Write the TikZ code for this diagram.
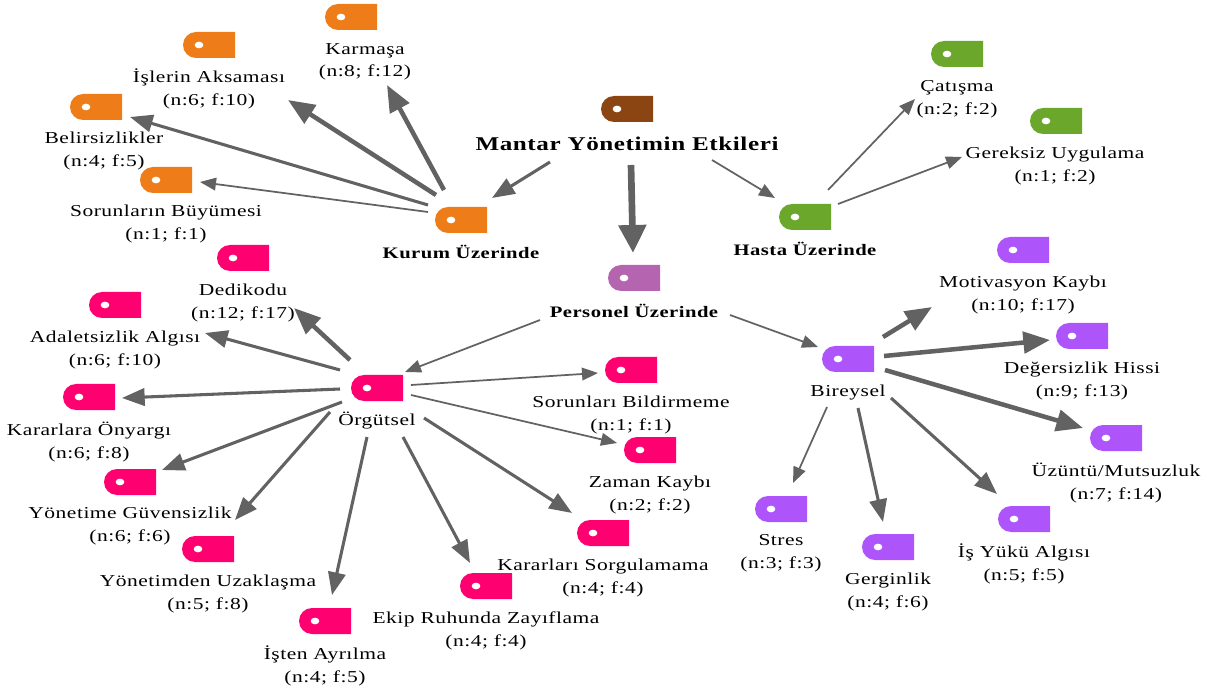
\documentclass[tikz,border=0pt]{standalone}
\usepackage{fontspec}
\setmainfont[LetterSpace=3,FakeStretch=1.29]{Liberation Serif}
\usetikzlibrary{arrows.meta,calc,shapes.misc,shapes.geometric}
\definecolor{corg}{HTML}{EE7C18}
\definecolor{cbrn}{HTML}{8B4513}
\definecolor{cgrn}{HTML}{6BA72B}
\definecolor{cpnk}{HTML}{FF0070}
\definecolor{cpur}{HTML}{AD55FB}
\definecolor{cper}{HTML}{B565B0}
\definecolor{cedge}{HTML}{626262}
\tikzset{
  x=0.75pt,y=-0.75pt,
  tagbox/.style={draw=none,fill=#1,rounded rectangle,rounded rectangle right arc=none,minimum width=39pt,minimum height=19.5pt,inner sep=0pt,outer sep=0pt},
  taghole/.style={draw=none,fill=white,ellipse,minimum width=6.5pt,minimum height=5pt,inner sep=0pt},
  lab/.style={align=center,inner sep=0pt,font=\fontsize{12.5}{16.9}\selectfont},
  blab/.style={align=center,inner sep=0pt,font=\fontsize{12}{16.9}\selectfont\bfseries},
  ethin/.style={draw=cedge,line width=1.3pt,-{Triangle[length=12pt,width=9.5pt]}},
  emid/.style={draw=cedge,line width=2.3pt,-{Triangle[length=17pt,width=13pt]}},
  ewide/.style={draw=cedge,line width=3.4pt,-{Triangle[length=20pt,width=16pt]}},
  ebig/.style={draw=cedge,line width=5pt,-{Triangle[length=21pt,width=20pt]}},
}
\newcommand{\tagat}[4]{\node[tagbox=#4] (#1) at (#2,#3) {};\node[taghole] (#1h) at ($(#1)+(-10,0)$) {};}
\begin{document}
\begin{tikzpicture}
\useasboundingbox (0,0) rectangle (1206,691);
% tags
\tagat{root}{627}{109}{cbrn}
\tagat{kurum}{461}{220}{corg}
\tagat{hasta}{805}{217}{cgrn}
\tagat{pers}{634}{278}{cper}
\tagat{karm}{351}{17}{corg}
\tagat{isle}{209}{45}{corg}
\tagat{beli}{96}{107}{corg}
\tagat{sorb}{166}{180}{corg}
\tagat{cati}{957}{54}{cgrn}
\tagat{gere}{1056}{121}{cgrn}
\tagat{orgu}{377}{388}{cpnk}
\tagat{bire}{848}{359}{cpur}
\tagat{moti}{1023}{250}{cpur}
\tagat{dege}{1082}{336}{cpur}
\tagat{uzun}{1116}{438}{cpur}
\tagat{isyu}{1024}{519}{cpur}
\tagat{gerg}{888}{547}{cpur}
\tagat{stre}{781}{509}{cpur}
\tagat{dedi}{243}{258}{cpnk}
\tagat{adal}{115}{305}{cpnk}
\tagat{kara}{89}{397}{cpnk}
\tagat{ygue}{130}{482}{cpnk}
\tagat{yuza}{208}{549}{cpnk}
\tagat{iste}{325}{621}{cpnk}
\tagat{ekip}{486}{586}{cpnk}
\tagat{ksor}{603}{533}{cpnk}
\tagat{zama}{650}{450}{cpnk}
\tagat{sbil}{631}{370}{cpnk}
% labels
\node[blab,font=\fontsize{14.6}{18}\selectfont\bfseries] (lroot) at (627,144) {Mantar Yönetimin Etkileri};
\node[blab] (lkurum) at (461,252) {Kurum Üzerinde};
\node[blab] (lhasta) at (805,249) {Hasta Üzerinde};
\node[blab] (lpers) at (634,311) {Personel Üzerinde};
\node[lab] (lorgu) at (377,421) {Örgütsel};
\node[lab] (lbire) at (848,393) {Bireysel};
\node[lab] (lkarm) at (365,62) {Karmaşa\\(n:8; f:12)};
\node[lab] (lisle) at (209,89) {İşlerin Aksaması\\(n:6; f:10)};
\node[lab] (lbeli) at (104,151) {Belirsizlikler\\(n:4; f:5)};
\node[lab] (lsorb) at (166,224) {Sorunların Büyümesi\\(n:1; f:1)};
\node[lab] (lcati) at (957,99) {Çatışma\\(n:2; f:2)};
\node[lab] (lgere) at (1055,166) {Gereksiz Uygulama\\(n:1; f:2)};
\node[lab] (lmoti) at (1023,295) {Motivasyon Kaybı\\(n:10; f:17)};
\node[lab] (ldege) at (1082,381) {Değersizlik Hissi\\(n:9; f:13)};
\node[lab] (luzun) at (1116,483) {Üzüntü/Mutsuzluk\\(n:7; f:14)};
\node[lab] (lisyu) at (1024,564) {İş Yükü Algısı\\(n:5; f:5)};
\node[lab] (lgerg) at (888,592) {Gerginlik\\(n:4; f:6)};
\node[lab] (lstre) at (781,553) {Stres\\(n:3; f:3)};
\node[lab] (ldedi) at (243,303) {Dedikodu\\(n:12; f:17)};
\node[lab] (ladal) at (115,350) {Adaletsizlik Algısı\\(n:6; f:10)};
\node[lab] (lkara) at (89,442) {Kararlara Önyargı\\(n:6; f:8)};
\node[lab] (lygue) at (130,526) {Yönetime Güvensizlik\\(n:6; f:6)};
\node[lab] (lyuza) at (208,594) {Yönetimden Uzaklaşma\\(n:5; f:8)};
\node[lab] (liste) at (325,666) {İşten Ayrılma\\(n:4; f:5)};
\node[lab] (lekip) at (486,631) {Ekip Ruhunda Zayıflama\\(n:4; f:4)};
\node[lab] (lksor) at (603,578) {Kararları Sorgulamama\\(n:4; f:4)};
\node[lab] (lzama) at (650,495) {Zaman Kaybı\\(n:2; f:2)};
\node[lab] (lsbil) at (631,415) {Sorunları Bildirmeme\\(n:1; f:1)};
% connectors
\draw[emid]  ($(root)+(-77,53)$) -- ($(kurum)+(31,-22)$);
\draw[ebig]  ($(root)+(4,56)$) -- ($(pers)+(-1,-25)$);
\draw[ethin] ($(root)+(85,51)$) -- ($(hasta)+(-30,-19)$);
\draw[ewide] ($(kurum)+(-17,-30)$) -- ($(karm)+(36,68)$);
\draw[ewide] ($(kurum)+(-25,-25)$) -- ($(isle)+(79,55)$);
\draw[emid]  ($(kurum)+(-33,-15)$) -- ($(beli)+(34,10)$);
\draw[ethin] ($(kurum)+(-33,-8)$) -- ($(sorb)+(34,2)$);
\draw[ethin] ($(hasta)+(23,-27)$) -- ($(cati)+(-42,45)$);
\draw[ethin] ($(hasta)+(33,-13)$) -- ($(gere)+(-94,36)$);
\draw[ethin] ($(pers)+(-94,42)$) -- ($(orgu)+(28,-16)$);
\draw[ethin] ($(pers)+(96,37)$) -- ($(bire)+(-30,-12)$);
\draw[ewide] ($(bire)+(35,-22)$) -- ($(moti)+(-91,57)$);
\draw[ewide] ($(bire)+(36,-3)$) -- ($(dege)+(-32,4)$);
\draw[ewide] ($(bire)+(37,11)$) -- ($(uzun)+(-33,-10)$);
\draw[emid]  ($(bire)+(43,39)$) -- ($(isyu)+(-27,-25)$);
\draw[emid]  ($(bire)+(10,49)$) -- ($(gerg)+(-5,-25)$);
\draw[ethin] ($(bire)+(-21,48)$) -- ($(stre)+(12,-26)$);
\draw[ewide] ($(orgu)+(-27,-28)$) -- ($(dedi)+(51,50)$);
\draw[emid]  ($(orgu)+(-37,-18)$) -- ($(adal)+(90,28)$);
\draw[emid]  ($(orgu)+(-37,1)$) -- ($(kara)+(33,1)$);
\draw[emid]  ($(orgu)+(-35,14)$) -- ($(ygue)+(32,-12)$);
\draw[emid]  ($(orgu)+(-47,24)$) -- ($(yuza)+(27,-29)$);
\draw[emid]  ($(orgu)+(-10,49)$) -- ($(iste)+(7,-26)$);
\draw[emid]  ($(orgu)+(26,49)$) -- ($(ekip)+(-16,-23)$);
\draw[emid]  ($(orgu)+(47,30)$) -- ($(ksor)+(-31,-20)$);
\draw[ethin] ($(orgu)+(34,7)$) -- ($(zama)+(-33,-7)$);
\draw[ethin] ($(orgu)+(34,-3)$) -- ($(sbil)+(-33,3)$);
\end{tikzpicture}
\end{document}
